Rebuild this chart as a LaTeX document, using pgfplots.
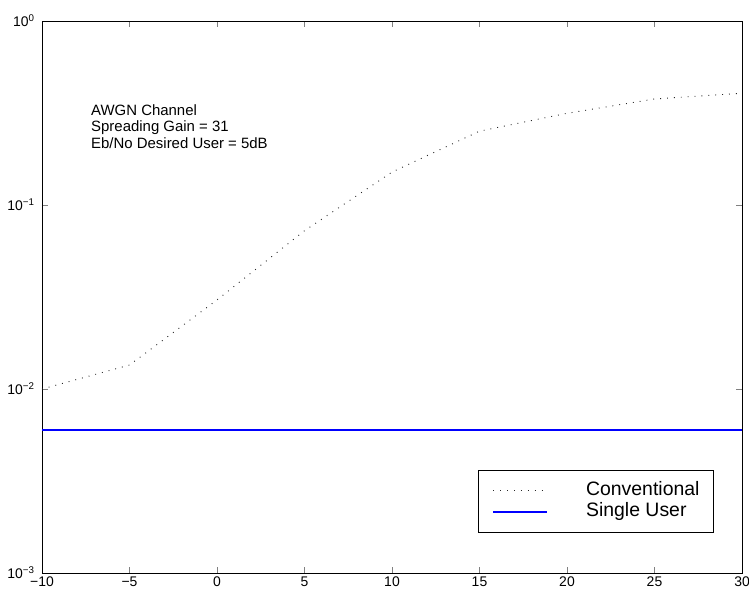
\documentclass[border=0pt]{standalone}
\usepackage{fontspec}
\setmainfont{Liberation Sans}
\usepackage{pgfplots}
\pgfplotsset{compat=1.18}
\begin{document}
\begin{tikzpicture}
\begin{axis}[
  name=ax, at={(0,0)}, anchor=south west,
  scale only axis, width=700bp, height=552bp,
  xmin=-10, xmax=30, ymode=log, ymin=1e-3, ymax=1,
  xtick={-10,-5,0,5,10,15,20,25,30},
  xticklabels={−10,−5,0,5,10,15,20,25,30},
  ytick={1e-3,1e-2,1e-1,1},
  yticklabels={10\textsuperscript{−3},10\textsuperscript{−2},10\textsuperscript{−1},10\textsuperscript{0}},
  yminorticks=false, xminorticks=false,
  tick align=inside, major tick length=6bp,
  axis line style={line width=0.8bp},
  tick label style={font=\fontsize{14}{16}\selectfont},
  yticklabel style={xshift=-4bp},
  legend style={at={(0.623,0.1866)}, anchor=north west, line width=0.8bp,
    fill=white, inner xsep=14bp, inner ysep=10bp,
    font=\fontsize{19.5}{21}\selectfont,
    nodes={inner xsep=0pt, inner ysep=0pt, text height=15bp, text depth=6bp},
    /tikz/every odd column/.append style={column sep=38bp}},
  legend cell align=left,
  reverse legend,
  legend image code/.code={\draw[#1] (0bp,0bp) -- (54bp,0bp);},
]
\addplot[color=blue, line width=1.6bp] coordinates {(-10,0.006) (30,0.006)};
\addlegendentry{Single User}
\addplot[color=black!85, line width=0.9bp, dash pattern=on 0.9bp off 6bp] coordinates {
 (-10,0.0100) (-5,0.0135) (0,0.0305) (5,0.0725) (10,0.151) (15,0.252) (20,0.315) (25,0.377) (30,0.405)};
\addlegendentry{Conventional}
\node[anchor=base west, inner sep=0pt, font=\fontsize{15}{16}\selectfont] at (rel axis cs:0.07,0.8297) {AWGN Channel};
\node[anchor=base west, inner sep=0pt, font=\fontsize{15}{16}\selectfont] at (rel axis cs:0.07,0.7998) {Spreading Gain = 31};
\node[anchor=base west, inner sep=0pt, font=\fontsize{15}{16}\selectfont] at (rel axis cs:0.07,0.7699) {Eb/No Desired User = 5dB};
\end{axis}
\pgfresetboundingbox
\path ([xshift=-42bp,yshift=-20bp]ax.south west) rectangle ([xshift=7bp,yshift=21bp]ax.north east);
\end{tikzpicture}
\end{document}
